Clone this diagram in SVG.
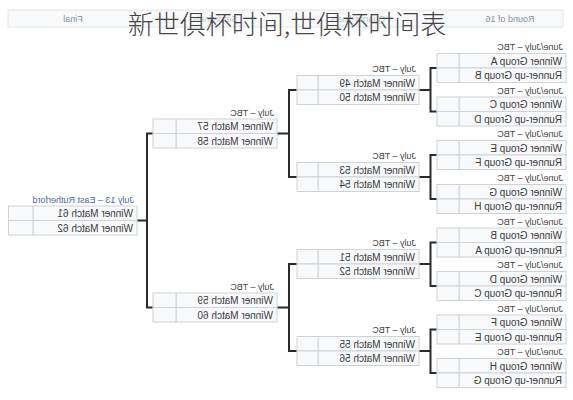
<svg xmlns="http://www.w3.org/2000/svg" width="573" height="400" viewBox="0 0 573 400">
<style>
.bg{fill:#ffffff}
.hd{fill:#f8f9fa;stroke:#e3e5e8;stroke-width:1}
.ht{font-family:"Liberation Sans",Arial,sans-serif;font-size:9px;fill:#8a8f96}
.hh{font-family:"Liberation Sans",Arial,sans-serif;font-size:9px;fill:#c4c8cd}
.c{fill:#f8f9fa;stroke:#cfd2d6;stroke-width:1}
.t{font-family:"Liberation Sans",Arial,sans-serif;font-size:10px;fill:#3a3a3a}
.l{font-family:"Liberation Sans",Arial,sans-serif;font-size:9px;fill:#444}
.lb{font-family:"Liberation Sans",Arial,sans-serif;font-size:9px;fill:#4a68a0}
.cn{fill:none;stroke:#2b2b2b;stroke-width:2}
.title{font-family:"Noto Sans CJK SC","Noto Sans CJK JP",sans-serif;font-size:26px;font-weight:300;fill:#444}
</style>
<rect class="bg" x="0" y="0" width="573" height="400"/>
<g id="bracket" transform="matrix(-1 0 0 1 573 0)">
  <g id="header">
    <rect class="hd" x="10" y="10" width="555" height="17"/>
    <text class="ht" x="63" y="21.5" text-anchor="middle">Round of 16</text>
    <text class="hh" x="215" y="21.5" text-anchor="middle">Quarter-finals</text>
    <text class="hh" x="358" y="21.5" text-anchor="middle">Semi-finals</text>
    <text class="ht" x="500" y="21.5" text-anchor="middle">Final</text>
  </g>
  <g id="connectors">
    <path class="cn" d="M136 68H142.5V111.5H136M142.5 90H154"/>
    <path class="cn" d="M136 155H142.5V199H136M142.5 177H154"/>
    <path class="cn" d="M136 242.5H142.5V286H136M142.5 264H154"/>
    <path class="cn" d="M136 329.5H142.5V373H136M142.5 351H154"/>
    <path class="cn" d="M276 90H284V177H276M284 133.5H296"/>
    <path class="cn" d="M276 264H284V351H276M284 307.5H296"/>
    <path class="cn" d="M420 133.5H426V307.5H420M426 220.5H436"/>
  </g>
  <!-- Round of 16 -->
  <g id="r16-1">
    <text class="l" x="10" y="50">June/July – TBC</text>
    <rect class="c" x="7" y="53.5" width="107" height="14.5"/><rect class="c" x="114" y="53.5" width="22" height="14.5"/>
    <rect class="c" x="7" y="68" width="107" height="14.5"/><rect class="c" x="114" y="68" width="22" height="14.5"/>
    <text class="t" x="11" y="64.5">Winner Group A</text>
    <text class="t" x="11" y="79">Runner-up Group B</text>
  </g>
  <g id="r16-2">
    <text class="l" x="10" y="93.5">June/July – TBC</text>
    <rect class="c" x="7" y="97" width="107" height="14.5"/><rect class="c" x="114" y="97" width="22" height="14.5"/>
    <rect class="c" x="7" y="111.5" width="107" height="14.5"/><rect class="c" x="114" y="111.5" width="22" height="14.5"/>
    <text class="t" x="11" y="108">Winner Group C</text>
    <text class="t" x="11" y="122.5">Runner-up Group D</text>
  </g>
  <g id="r16-3">
    <text class="l" x="10" y="137">June/July – TBC</text>
    <rect class="c" x="7" y="140.5" width="107" height="14.5"/><rect class="c" x="114" y="140.5" width="22" height="14.5"/>
    <rect class="c" x="7" y="155" width="107" height="14.5"/><rect class="c" x="114" y="155" width="22" height="14.5"/>
    <text class="t" x="11" y="151.5">Winner Group E</text>
    <text class="t" x="11" y="166">Runner-up Group F</text>
  </g>
  <g id="r16-4">
    <text class="l" x="10" y="181">June/July – TBC</text>
    <rect class="c" x="7" y="184.5" width="107" height="14.5"/><rect class="c" x="114" y="184.5" width="22" height="14.5"/>
    <rect class="c" x="7" y="199" width="107" height="14.5"/><rect class="c" x="114" y="199" width="22" height="14.5"/>
    <text class="t" x="11" y="195.5">Winner Group G</text>
    <text class="t" x="11" y="210">Runner-up Group H</text>
  </g>
  <g id="r16-5">
    <text class="l" x="10" y="224.5">June/July – TBC</text>
    <rect class="c" x="7" y="228" width="107" height="14.5"/><rect class="c" x="114" y="228" width="22" height="14.5"/>
    <rect class="c" x="7" y="242.5" width="107" height="14.5"/><rect class="c" x="114" y="242.5" width="22" height="14.5"/>
    <text class="t" x="11" y="239">Winner Group B</text>
    <text class="t" x="11" y="253.5">Runner-up Group A</text>
  </g>
  <g id="r16-6">
    <text class="l" x="10" y="268">June/July – TBC</text>
    <rect class="c" x="7" y="271.5" width="107" height="14.5"/><rect class="c" x="114" y="271.5" width="22" height="14.5"/>
    <rect class="c" x="7" y="286" width="107" height="14.5"/><rect class="c" x="114" y="286" width="22" height="14.5"/>
    <text class="t" x="11" y="282.5">Winner Group D</text>
    <text class="t" x="11" y="297">Runner-up Group C</text>
  </g>
  <g id="r16-7">
    <text class="l" x="10" y="311.5">June/July – TBC</text>
    <rect class="c" x="7" y="315" width="107" height="14.5"/><rect class="c" x="114" y="315" width="22" height="14.5"/>
    <rect class="c" x="7" y="329.5" width="107" height="14.5"/><rect class="c" x="114" y="329.5" width="22" height="14.5"/>
    <text class="t" x="11" y="326">Winner Group F</text>
    <text class="t" x="11" y="340.5">Runner-up Group E</text>
  </g>
  <g id="r16-8">
    <text class="l" x="10" y="355">June/July – TBC</text>
    <rect class="c" x="7" y="358.5" width="107" height="14.5"/><rect class="c" x="114" y="358.5" width="22" height="14.5"/>
    <rect class="c" x="7" y="373" width="107" height="14.5"/><rect class="c" x="114" y="373" width="22" height="14.5"/>
    <text class="t" x="11" y="369.5">Winner Group H</text>
    <text class="t" x="11" y="384">Runner-up Group G</text>
  </g>
  <!-- Quarter-finals -->
  <g id="qf-1">
    <text class="l" x="157" y="72">July – TBC</text>
    <rect class="c" x="154" y="75.5" width="101" height="14.5"/><rect class="c" x="255" y="75.5" width="21" height="14.5"/>
    <rect class="c" x="154" y="90" width="101" height="14.5"/><rect class="c" x="255" y="90" width="21" height="14.5"/>
    <text class="t" x="158" y="86.5">Winner Match 49</text>
    <text class="t" x="158" y="101">Winner Match 50</text>
  </g>
  <g id="qf-2">
    <text class="l" x="157" y="159">July – TBC</text>
    <rect class="c" x="154" y="162.5" width="101" height="14.5"/><rect class="c" x="255" y="162.5" width="21" height="14.5"/>
    <rect class="c" x="154" y="177" width="101" height="14.5"/><rect class="c" x="255" y="177" width="21" height="14.5"/>
    <text class="t" x="158" y="173.5">Winner Match 53</text>
    <text class="t" x="158" y="188">Winner Match 54</text>
  </g>
  <g id="qf-3">
    <text class="l" x="157" y="246">July – TBC</text>
    <rect class="c" x="154" y="249.5" width="101" height="14.5"/><rect class="c" x="255" y="249.5" width="21" height="14.5"/>
    <rect class="c" x="154" y="264" width="101" height="14.5"/><rect class="c" x="255" y="264" width="21" height="14.5"/>
    <text class="t" x="158" y="260.5">Winner Match 51</text>
    <text class="t" x="158" y="275">Winner Match 52</text>
  </g>
  <g id="qf-4">
    <text class="l" x="157" y="333">July – TBC</text>
    <rect class="c" x="154" y="336.5" width="101" height="14.5"/><rect class="c" x="255" y="336.5" width="21" height="14.5"/>
    <rect class="c" x="154" y="351" width="101" height="14.5"/><rect class="c" x="255" y="351" width="21" height="14.5"/>
    <text class="t" x="158" y="347.5">Winner Match 55</text>
    <text class="t" x="158" y="362">Winner Match 56</text>
  </g>
  <!-- Semi-finals -->
  <g id="sf-1">
    <text class="l" x="299" y="115.5">July – TBC</text>
    <rect class="c" x="296" y="119" width="101" height="14.5"/><rect class="c" x="397" y="119" width="23" height="14.5"/>
    <rect class="c" x="296" y="133.5" width="101" height="14.5"/><rect class="c" x="397" y="133.5" width="23" height="14.5"/>
    <text class="t" x="300" y="130">Winner Match 57</text>
    <text class="t" x="300" y="144.5">Winner Match 58</text>
  </g>
  <g id="sf-2">
    <text class="l" x="299" y="289.5">July – TBC</text>
    <rect class="c" x="296" y="293" width="101" height="14.5"/><rect class="c" x="397" y="293" width="23" height="14.5"/>
    <rect class="c" x="296" y="307.5" width="101" height="14.5"/><rect class="c" x="397" y="307.5" width="23" height="14.5"/>
    <text class="t" x="300" y="304">Winner Match 59</text>
    <text class="t" x="300" y="318.5">Winner Match 60</text>
  </g>
  <!-- Final -->
  <g id="final">
    <text class="lb" x="439" y="202.5">July 13 – East Rutherford</text>
    <rect class="c" x="436" y="206" width="104" height="14.5"/><rect class="c" x="540" y="206" width="24.5" height="14.5"/>
    <rect class="c" x="436" y="220.5" width="104" height="14.5"/><rect class="c" x="540" y="220.5" width="24.5" height="14.5"/>
    <text class="t" x="440" y="217">Winner Match 61</text>
    <text class="t" x="440" y="231.5">Winner Match 62</text>
  </g>
</g>
<text id="title" class="title" x="287" y="33.5" text-anchor="middle">新世俱杯时间,世俱杯时间表</text>
</svg>
